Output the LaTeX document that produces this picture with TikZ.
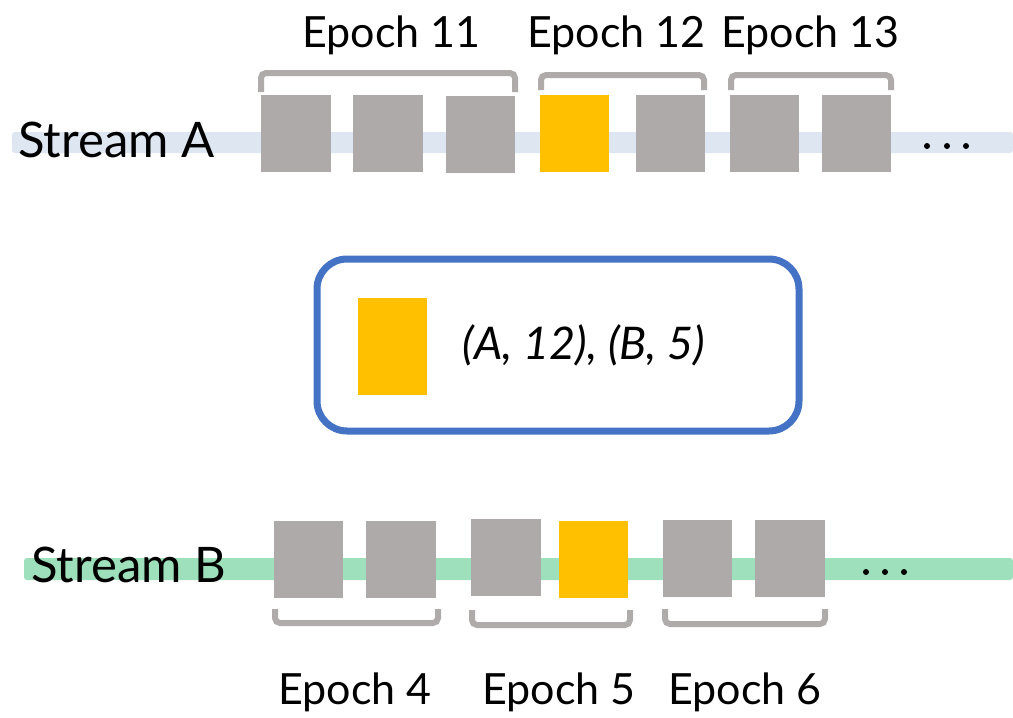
\documentclass[tikz,border=0pt]{standalone}
\usepackage{fontspec}
\setmainfont{Lato}
\definecolor{boxgray}{HTML}{AEAAAA}
\definecolor{brgray}{HTML}{AFABAB}
\definecolor{gold}{HTML}{FFC000}
\definecolor{frameblue}{HTML}{4472C4}
\definecolor{barA}{HTML}{DEE6F1}
\definecolor{barB}{HTML}{9DE0BB}
\tikzset{
  gbox/.style={fill=boxgray, draw=none, minimum width=70pt, minimum height=77pt, inner sep=0pt},
  ybox/.style={fill=gold, draw=none, minimum width=69pt, minimum height=77pt, inner sep=0pt},
  brack/.style={draw=brgray, line width=6pt, rounded corners=5pt},
  epochlbl/.style={anchor=base, inner sep=0pt, font=\fontsize{43}{50}\selectfont},
  streamlbl/.style={anchor=base west, inner sep=0pt, font=\fontsize{49}{58}\selectfont},
  dotty/.style={fill=black, circle, inner sep=0pt, minimum size=6pt},
}
\begin{document}
\begin{tikzpicture}[x=1pt,y=-1pt]
\useasboundingbox (0,0) rectangle (1013,718);
% stream bars
\fill[barA, rounded corners=3pt] (12,132) rectangle (1013,153);
\fill[barB, rounded corners=3pt] (24,558) rectangle (1013,580);
% stream labels
\node[streamlbl] (sA) at (18,157) {Stream A};
\node[streamlbl] (sB) at (31,582) {Stream B};
% stream A boxes
\node[gbox] (a1) at (296,133.5) {};
\node[gbox] (a2) at (388,133.5) {};
\node[gbox, minimum width=69pt] (a3) at (480.5,134.5) {};
\node[ybox] (a4) at (574.5,133.5) {};
\node[gbox, minimum width=69pt] (a5) at (670.5,133.5) {};
\node[gbox, minimum width=69pt] (a6) at (764.5,133.5) {};
\node[gbox, minimum width=69pt] (a7) at (856.5,133.5) {};
\node[dotty] (da1) at (927,146) {};
\node[dotty] (da2) at (947,146) {};
\node[dotty] (da3) at (966,146) {};
% stream B boxes
\node[gbox, minimum width=69pt] (b1) at (308.5,559.5) {};
\node[gbox] (b2) at (401,559.5) {};
\node[gbox] (b3) at (506,557.5) {};
\node[ybox] (b4) at (593.5,559.5) {};
\node[gbox, minimum width=69pt] (b5) at (697.5,558.5) {};
\node[gbox] (b6) at (790,558.5) {};
\node[dotty] (db1) at (866,572) {};
\node[dotty] (db2) at (885,572) {};
\node[dotty] (db3) at (904,572) {};
% brackets top
\draw[brack] (261,92) -- (261,73) -- (515,73) -- (515,92);
\draw[brack] (541,90) -- (541,75) -- (704,75) -- (704,90);
\draw[brack] (731,90) -- (731,75) -- (891,75) -- (891,90);
% brackets bottom
\draw[brack] (275,609) -- (275,623) -- (438,623) -- (438,609);
\draw[brack] (472,610) -- (472,625) -- (630,625) -- (630,610);
\draw[brack] (665,609) -- (665,624) -- (825,624) -- (825,609);
% epoch labels
\node[epochlbl] (e11) at (391.5,47) {Epoch 11};
\node[epochlbl] (e12) at (616.5,47) {Epoch 12};
\node[epochlbl] (e13) at (810.5,47) {Epoch 13};
\node[epochlbl] (e4) at (355,704) {Epoch 4};
\node[epochlbl] (e5) at (559,704) {Epoch 5};
\node[epochlbl] (e6) at (745,704) {Epoch 6};
% middle frame
\node[draw=frameblue, line width=7pt, rounded corners=30pt, minimum width=482pt, minimum height=172pt, inner sep=0pt] (frame) at (558,345) {};
\node[ybox, minimum height=97pt] (mark) at (392.5,346.5) {};
\node[anchor=base, inner sep=0pt, font=\fontsize{45}{54}\selectfont\itshape] (pair) at (584,359) {(A, 12), (B, 5)};
\end{tikzpicture}
\end{document}
